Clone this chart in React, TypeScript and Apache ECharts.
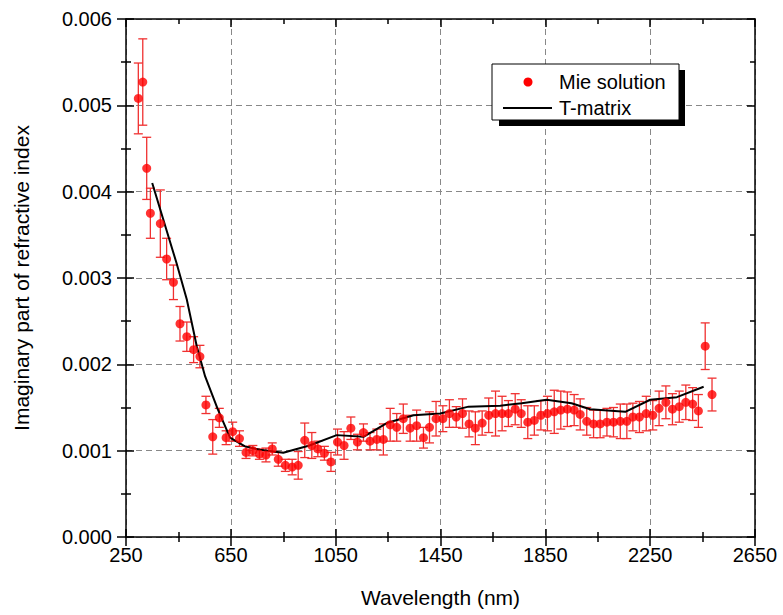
import React, { useEffect, useRef } from "react";
import * as echarts from "echarts";

// ---- Data ----
const mieX = [
  297, 314, 329, 343, 381, 405, 431, 456, 482, 508, 532, 555, 581, 606, 632, 657, 683, 708, 734, 759,
  784, 808, 831, 858, 884, 907, 932, 959, 982, 1007, 1032, 1057, 1082, 1108, 1133, 1156, 1181, 1207, 1232, 1258,
  1283, 1308, 1334, 1359, 1385, 1408, 1433, 1459, 1484, 1510, 1534, 1559, 1583, 1609, 1634, 1660, 1685, 1709, 1735, 1758,
  1783, 1808, 1833, 1858, 1884, 1909, 1934, 1960, 1983, 2008, 2034, 2059, 2085, 2110, 2136, 2161, 2184, 2209, 2235, 2260,
  2284, 2310, 2335, 2361, 2386, 2412, 2434, 2460, 2486,
];
const mieY = [
  0.00508, 0.00527, 0.00427, 0.00375, 0.00363, 0.00322, 0.00295, 0.00247, 0.00232, 0.00217, 0.00209, 0.00153, 0.00116, 0.00138, 0.00115, 0.00122, 0.00114, 0.00098, 0.001, 0.00096,
  0.00095, 0.00102, 0.0009, 0.00083, 0.00081, 0.00083, 0.00112, 0.00106, 0.00102, 0.00097, 0.00087, 0.0011, 0.00106, 0.00126, 0.0011, 0.00121, 0.00111, 0.00113, 0.00113, 0.0013,
  0.00127, 0.00137, 0.00126, 0.00129, 0.00115, 0.00127, 0.00137, 0.00137, 0.00143, 0.00139, 0.00143, 0.00131, 0.00126, 0.00132, 0.00141, 0.00143, 0.00143, 0.00143, 0.00148, 0.00143,
  0.00133, 0.00135, 0.00141, 0.00143, 0.00145, 0.00147, 0.00148, 0.00147, 0.00142, 0.00134, 0.00131, 0.00131, 0.00133, 0.00133, 0.00134, 0.00134, 0.00139, 0.00139, 0.00143, 0.00141,
  0.00149, 0.00156, 0.00148, 0.00151, 0.00156, 0.00154, 0.00146, 0.00221, 0.00165,
];
const mieErr = [
  0.00041, 0.0005, 0.00036, 0.00029, 0.00039, 0.00024, 0.0002, 0.0002, 0.00017, 0.00015, 0.00013, 0.0001, 0.0002, 0.00011, 0.00008, 0.00011, 0.00009, 0.00007, 0.00006, 0.00006,
  0.00008, 0.00007, 0.00008, 0.00007, 0.00009, 0.00016, 0.0002, 0.00015, 0.00009, 0.00008, 0.00011, 0.00015, 0.00016, 0.00013, 0.00009, 0.0001, 0.0001, 0.00012, 0.00018, 0.00019,
  0.00016, 0.00017, 0.00015, 0.00018, 0.00012, 0.00018, 0.0002, 0.00015, 0.00016, 0.00012, 0.00017, 0.00015, 0.00019, 0.00014, 0.0002, 0.00026, 0.0002, 0.00015, 0.00018, 0.00016,
  0.00019, 0.00017, 0.00017, 0.0002, 0.00025, 0.00022, 0.0002, 0.00018, 0.00018, 0.00016, 0.00016, 0.00016, 0.00016, 0.00017, 0.0002, 0.0002, 0.00016, 0.00018, 0.0002, 0.00017,
  0.0002, 0.00019, 0.00018, 0.00018, 0.0002, 0.00019, 0.00019, 0.00027, 0.00019,
];
const tmX = [350, 443, 482, 520, 552, 600, 647, 704, 761, 850, 950, 1054, 1156, 1245, 1347, 1449, 1557, 1678, 1760, 1855, 1950, 2021, 2155, 2250, 2352, 2454];
const tmY = [0.0041, 0.00317, 0.00275, 0.00221, 0.00186, 0.00148, 0.00115, 0.00105, 0.00101, 0.000975, 0.00106, 0.00118, 0.00116, 0.00132, 0.00141, 0.00143, 0.00151, 0.00152, 0.00155, 0.00159, 0.00155, 0.00148, 0.00145, 0.00159, 0.00162, 0.00174];

const xMin = 250, xMax = 2650, xStep = 400;
const yMin = 0, yMax = 0.006, yStep = 0.001;
const xTitle = "Wavelength (nm)";
const yTitle = "Imaginary part of refractive index";
const legendNames = ["Mie solution", "T-matrix"];

const FONT = "'Liberation Sans', Arial, sans-serif";

export default function App() {
  const ref = useRef<HTMLDivElement>(null);
  useEffect(() => {
    document.body.style.margin = "0";
    if (!ref.current) return;
    const chart = echarts.init(ref.current, undefined, { renderer: "svg" });
    const axisColor = "#000";
    const lw = 1.5;
    const baseX = { type: "value" as const, min: xMin, max: xMax, interval: xStep };
    const baseY = { type: "value" as const, min: yMin, max: yMax, interval: yStep };
    const hidden = { axisLabel: { show: false }, splitLine: { show: false } };
    const tickStyle = { color: axisColor, width: lw };
    const mieData = mieX.map((x, i) => [x, mieY[i]]);
    const errData = mieX.map((x, i) => [x, mieY[i] - mieErr[i], mieY[i] + mieErr[i]]);
    const tmData = tmX.map((x, i) => [x, tmY[i]]);

    chart.setOption({
      animation: false,
      backgroundColor: "#fff",
      textStyle: { fontFamily: FONT },
      grid: { left: 126, right: 28, top: 19, bottom: 78, containLabel: false },
      xAxis: [
        {
          ...baseX,
          position: "bottom",
          axisLine: { onZero: false, lineStyle: { color: axisColor, width: lw } },
          axisTick: { inside: false, length: 9, lineStyle: tickStyle },
          minorTick: { show: true, splitNumber: 2, length: 5, lineStyle: tickStyle },
          axisLabel: { fontSize: 20, color: "#000", fontFamily: FONT, margin: 8, formatter: (v: number) => String(v) },
          splitLine: { show: true, lineStyle: { type: [6, 4], color: "#888", width: 1 } },
          name: xTitle,
          nameLocation: "middle",
          nameGap: 50,
          nameTextStyle: { fontSize: 21, color: "#000", fontFamily: FONT },
        },
        {
          ...baseX,
          ...hidden,
          position: "bottom",
          axisLine: { show: false, onZero: false },
          axisTick: { inside: true, length: 8, lineStyle: tickStyle },
          minorTick: { show: true, splitNumber: 2, length: 5, lineStyle: tickStyle },
        },
        {
          ...baseX,
          ...hidden,
          position: "top",
          axisLine: { show: true, onZero: false, lineStyle: { color: axisColor, width: lw } },
          axisTick: { inside: true, length: 8, lineStyle: tickStyle },
          minorTick: { show: true, splitNumber: 2, length: 5, lineStyle: tickStyle },
        },
      ],
      yAxis: [
        {
          ...baseY,
          position: "left",
          axisLine: { onZero: false, lineStyle: { color: axisColor, width: lw } },
          axisTick: { inside: false, length: 9, lineStyle: tickStyle },
          minorTick: { show: true, splitNumber: 2, length: 5, lineStyle: tickStyle },
          axisLabel: {
            fontSize: 20,
            color: "#000",
            fontFamily: FONT,
            margin: 14,
            formatter: (v: number) => v.toFixed(3),
          },
          splitLine: { show: true, lineStyle: { type: [6, 4], color: "#888", width: 1 } },
          name: yTitle,
          nameLocation: "middle",
          nameGap: 94,
          nameTextStyle: { fontSize: 21, color: "#000", fontFamily: FONT },
        },
        {
          ...baseY,
          ...hidden,
          position: "left",
          axisLine: { show: false, onZero: false },
          axisTick: { inside: true, length: 8, lineStyle: tickStyle },
          minorTick: { show: true, splitNumber: 2, length: 5, lineStyle: tickStyle },
        },
        {
          ...baseY,
          ...hidden,
          position: "right",
          axisLine: { show: true, onZero: false, lineStyle: { color: axisColor, width: lw } },
          axisTick: { inside: true, length: 8, lineStyle: tickStyle },
          minorTick: { show: true, splitNumber: 2, length: 5, lineStyle: tickStyle },
        },
      ],
      series: [
        {
          type: "custom",
          name: "err",
          xAxisIndex: 0,
          yAxisIndex: 0,
          data: errData,
          encode: { x: 0, y: [1, 2] },
          z: 2,
          silent: true,
          renderItem: (params: any, api: any) => {
            const x = api.value(0);
            const lo = api.coord([x, api.value(1)]);
            const hi = api.coord([x, api.value(2)]);
            const hw = 4.5;
            const style = { stroke: "#f03030", lineWidth: 1.3, fill: "none" };
            return {
              type: "group",
              children: [
                { type: "line", shape: { x1: hi[0], y1: hi[1], x2: lo[0], y2: lo[1] }, style },
                { type: "line", shape: { x1: hi[0] - hw, y1: hi[1], x2: hi[0] + hw, y2: hi[1] }, style },
                { type: "line", shape: { x1: lo[0] - hw, y1: lo[1], x2: lo[0] + hw, y2: lo[1] }, style },
              ],
            };
          },
        },
        {
          type: "line",
          name: legendNames[1],
          xAxisIndex: 0,
          yAxisIndex: 0,
          data: tmData,
          showSymbol: false,
          symbol: "none",
          lineStyle: { color: "#000", width: 2 },
          z: 3,
        },
        {
          type: "scatter",
          name: legendNames[0],
          xAxisIndex: 0,
          yAxisIndex: 0,
          data: mieData,
          symbol: "circle",
          symbolSize: 9,
          itemStyle: { color: "#ff0000" },
          z: 4,
        },
      ],
      graphic: [
        { type: "rect", shape: { x: 499, y: 70, width: 186, height: 56 }, style: { fill: "#000" }, z: 10 },
        { type: "rect", shape: { x: 492, y: 64, width: 187, height: 56 }, style: { fill: "#fff", stroke: "#000", lineWidth: 1 }, z: 11 },
        { type: "circle", shape: { cx: 528, cy: 82, r: 4.5 }, style: { fill: "#ff0000" }, z: 12 },
        { type: "line", shape: { x1: 503, y1: 108, x2: 552, y2: 108 }, style: { stroke: "#000", lineWidth: 2 }, z: 12 },
        { type: "text", x: 559, y: 82, style: { text: legendNames[0], font: `20px ${FONT}`, fill: "#000", verticalAlign: "middle" }, z: 12 },
        { type: "text", x: 559, y: 108, style: { text: legendNames[1], font: `20px ${FONT}`, fill: "#000", verticalAlign: "middle" }, z: 12 },
      ],
    });
    return () => chart.dispose();
  }, []);
  return <div ref={ref} style={{ position: "absolute", left: 0, top: 0, width: 783, height: 615 }} />;
}
